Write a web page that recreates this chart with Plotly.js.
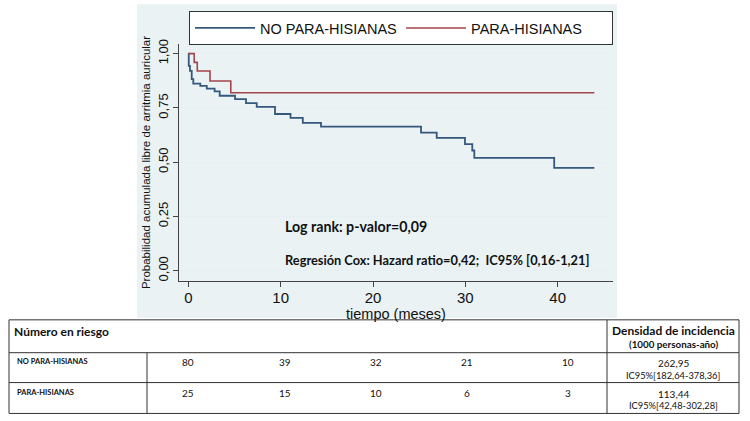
<!DOCTYPE html>
<html><head><meta charset="utf-8">
<script src="https://cdn.plot.ly/plotly-3.0.1.min.js"></script>
<style>html,body{margin:0;padding:0;background:#fff}#chart{width:750px;height:421px}</style>
</head><body><div id="chart"></div>
<script>
// ---- data ----
const seriesNames = ['NO PARA-HISIANAS', 'PARA-HISIANAS'];
const noParaTime = [0, 0.05, 0.18, 0.37, 0.54, 1.3, 2.0, 2.85, 3.4, 5.06, 6.25, 7.41, 9.39, 11.07, 12.4, 14.37, 25.2, 26.9, 29.96, 30.75, 30.97, 39.62, 43.97];
const noParaSurv = [1, 0.944, 0.921, 0.883, 0.862, 0.852, 0.839, 0.826, 0.806, 0.791, 0.772, 0.755, 0.722, 0.704, 0.681, 0.664, 0.636, 0.612, 0.583, 0.554, 0.520, 0.474, 0.474];
const paraTime = [0, 0.64, 0.97, 2.35, 4.6, 43.97];
const paraSurv = [1, 0.96, 0.92, 0.874, 0.82, 0.82];
const xTickVals = [0, 10, 20, 30, 40];
const yTickVals = [0, 0.25, 0.5, 0.75, 1];
const xTitle = 'tiempo (meses)';
const yTitle = 'Probabilidad acumulada libre de arritmia auricular';
const statTexts = ['Log rank: p-valor=0,09', 'Regresión Cox: Hazard ratio=0,42;  IC95% [0,16-1,21]'];
const riskHeader = 'Número en riesgo';
const riskNoPara = [80, 39, 32, 21, 10];
const riskPara = [25, 15, 10, 6, 3];
const densityHeader = ['Densidad de incidencia', '(1000 personas-año)'];
const densityNoPara = ['262,95', 'IC95%[182,64-378,36]'];
const densityPara = ['113,44', 'IC95%[42,48-302,28]'];

// ---- layout geometry (pixels) ----
const L = 179, R = 613, T = 43, B = 281;
const px = x => (x - L) / (R - L);
const py = y => (B - y) / (B - T);
const colors = ['#35587c', '#a3464b'];
const tableFont = 'Lato, "Open Sans", sans-serif';
const arial = '"Liberation Sans", Arial, sans-serif';

const traces = [
  {x: noParaTime, y: noParaSurv, name: seriesNames[0], type: 'scatter', mode: 'lines',
   line: {shape: 'hv', color: colors[0], width: 1.8}},
  {x: paraTime, y: paraSurv, name: seriesNames[1], type: 'scatter', mode: 'lines',
   line: {shape: 'hv', color: colors[1], width: 1.6}}
];

const lineColor = '#333';
const shapes = [
  // graph region panel
  {type: 'rect', xref: 'paper', yref: 'paper', x0: px(137), x1: px(617), y0: py(318), y1: py(3),
   fillcolor: '#eaf2f3', line: {width: 0}, layer: 'below'},
  // table frame
  {type: 'rect', xref: 'paper', yref: 'paper', x0: px(9), x1: px(739), y0: py(414), y1: py(320),
   line: {color: lineColor, width: 1}},
  {type: 'line', xref: 'paper', yref: 'paper', x0: px(9), x1: px(739), y0: py(353), y1: py(353), line: {color: lineColor, width: 1}},
  {type: 'line', xref: 'paper', yref: 'paper', x0: px(9), x1: px(739), y0: py(383), y1: py(383), line: {color: lineColor, width: 1}},
  {type: 'line', xref: 'paper', yref: 'paper', x0: px(147), x1: px(147), y0: py(353), y1: py(414), line: {color: lineColor, width: 1}},
  {type: 'line', xref: 'paper', yref: 'paper', x0: px(607), x1: px(607), y0: py(320), y1: py(414), line: {color: lineColor, width: 1}}
];

const ann = (text, x, y, opts) => Object.assign({
  text, x: px(x), y: py(y), xref: 'paper', yref: 'paper', showarrow: false,
  xanchor: 'left', yanchor: 'middle', font: {family: tableFont, size: 10, color: '#111'}
}, opts || {});

const annotations = [
  ann('<b>' + statTexts[0] + '</b>', 283, 226, {font: {family: tableFont, size: 14.2, color: '#111'}}),
  ann('<b>' + statTexts[1] + '</b>', 283, 260, {font: {family: tableFont, size: 12.8, color: '#111'}}),
  ann('<b>' + riskHeader + '</b>', 12, 332, {font: {family: tableFont, size: 12, color: '#111'}}),
  ann('<b>' + seriesNames[0] + '</b>', 15, 362, {font: {family: tableFont, size: 7.5, color: '#111'}}),
  ann('<b>' + seriesNames[1] + '</b>', 15, 393, {font: {family: tableFont, size: 7.5, color: '#111'}}),
  ann('<b>' + densityHeader[0] + '</b>', 673, 331, {xanchor: 'center', font: {family: tableFont, size: 12, color: '#111'}}),
  ann('<b>' + densityHeader[1] + '</b>', 673, 344.5, {xanchor: 'center', font: {family: tableFont, size: 9.8, color: '#111'}}),
  ann(densityNoPara[0], 673, 363, {xanchor: 'center'}),
  ann(densityNoPara[1], 673, 375.5, {xanchor: 'center', font: {family: tableFont, size: 9.3, color: '#111'}}),
  ann(densityPara[0], 673, 394.5, {xanchor: 'center'}),
  ann(densityPara[1], 673, 406, {xanchor: 'center', font: {family: tableFont, size: 9.3, color: '#111'}})
];
const riskCols = [188, 285, 376, 467, 568];
riskNoPara.forEach((v, i) => annotations.push(ann(String(v), riskCols[i], 362, {xanchor: 'center'})));
riskPara.forEach((v, i) => annotations.push(ann(String(v), riskCols[i], 393, {xanchor: 'center'})));

const layout = {
  width: 750, height: 421,
  margin: {l: L, r: 750 - R, t: T, b: 421 - B, pad: 0},
  paper_bgcolor: '#ffffff', plot_bgcolor: '#ffffff',
  separators: ',.',
  showlegend: true,
  legend: {
    orientation: 'h', x: 1.0001, y: py(11), xanchor: 'right', yanchor: 'top',
    bgcolor: '#ffffff', bordercolor: '#333', borderwidth: 1,
    font: {family: arial, size: 14.5, color: '#111'},
    itemwidth: 60, entrywidth: 136
  },
  xaxis: {
    range: [(L - 188.3) / 9.235, (R - 188.3) / 9.235],
    tickvals: xTickVals, ticks: 'outside', ticklen: 5, tickcolor: '#444', tickwidth: 1,
    showline: true, linecolor: '#444', linewidth: 1, showgrid: false, zeroline: false,
    tickfont: {family: arial, size: 15, color: '#111'}, ticklabelstandoff: -2,
    title: {text: xTitle, font: {family: arial, size: 14.5, color: '#111'}, standoff: 0}
  },
  yaxis: {
    range: [(270.7 - B) / 218, (270.7 - T) / 218],
    tickvals: yTickVals, tickformat: '.2f', tickangle: -90,
    ticks: 'outside', ticklen: 5, tickcolor: '#444', tickwidth: 1,
    showline: true, linecolor: '#444', linewidth: 1,
    showgrid: true, gridcolor: '#e6eff1', gridwidth: 1, zeroline: false,
    tickfont: {family: arial, size: 13, color: '#111'},
    title: {text: yTitle, font: {family: arial, size: 11.5, color: '#111'}, standoff: 2}
  },
  shapes, annotations
};

Plotly.newPlot('chart', traces, layout, {displayModeBar: false, staticPlot: true});
</script></body></html>
